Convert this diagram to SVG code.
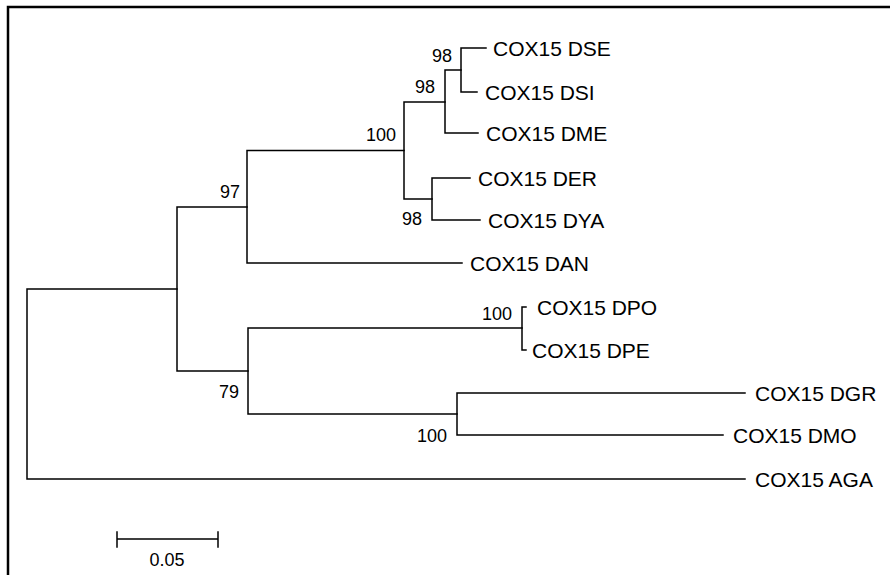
<svg xmlns="http://www.w3.org/2000/svg" width="890" height="575" viewBox="0 0 890 575">
<style>
.br{fill:none;stroke:#000;stroke-width:1.5;stroke-linecap:square}
.leaf{font-family:"Liberation Sans",Arial,sans-serif;font-size:21px;fill:#000}
.bs{font-family:"Liberation Sans",Arial,sans-serif;font-size:18px;fill:#000;text-anchor:end}
</style>
<rect width="890" height="575" fill="#fff"/>
<path d="M8,575 V7 H890" fill="none" stroke="#000" stroke-width="2.5"/>
<g id="connectors">
<path class="br" d="M27,289 H177 M27,289 V479 H745"/>
<path class="br" d="M177,207 V371 M177,207 H247 M177,371 H248"/>
<path class="br" d="M247,150.5 V263 H462 M247,150.5 H404"/>
<path class="br" d="M404,102 V199 M404,102 H445 M404,199 H432"/>
<path class="br" d="M445,70 V133 H478 M445,70 H461"/>
<path class="br" d="M461,48 V92 H477 M461,48 H486"/>
<path class="br" d="M432,178 V220 H480 M432,178 H470"/>
<path class="br" d="M248,328 V414 M248,328 H522 M248,414 H457"/>
<path class="br" d="M522,307 V350 H526 M522,307 H526"/>
<path class="br" d="M457,393 V435 H723 M457,393 H745"/>
<path class="br" d="M117,539 H218 M117,532 V547 M218,532 V547"/>
</g>
<g id="n-dse"><text class="leaf" x="493" y="55.5">COX15 DSE</text></g>
<g id="n-dsi"><text class="leaf" x="485" y="99.5">COX15 DSI</text></g>
<g id="n-dme"><text class="leaf" x="486" y="140.5">COX15 DME</text></g>
<g id="n-der"><text class="leaf" x="478" y="185.5">COX15 DER</text></g>
<g id="n-dya"><text class="leaf" x="488" y="227.5">COX15 DYA</text></g>
<g id="n-dan"><text class="leaf" x="470" y="270.5">COX15 DAN</text></g>
<g id="n-dpo"><text class="leaf" x="537" y="314.5">COX15 DPO</text></g>
<g id="n-dpe"><text class="leaf" x="532" y="357.5">COX15 DPE</text></g>
<g id="n-dgr"><text class="leaf" x="755" y="400.5">COX15 DGR</text></g>
<g id="n-dmo"><text class="leaf" x="733" y="442.5">COX15 DMO</text></g>
<g id="n-aga"><text class="leaf" x="755" y="486.5">COX15 AGA</text></g>
<g id="bootstrap">
<text class="bs" x="452" y="62">98</text>
<text class="bs" x="435" y="93">98</text>
<text class="bs" x="396" y="141">100</text>
<text class="bs" x="422" y="225">98</text>
<text class="bs" x="240" y="198">97</text>
<text class="bs" x="512" y="320">100</text>
<text class="bs" x="239" y="398">79</text>
<text class="bs" x="447" y="442">100</text>
</g>
<g id="scale"><text x="167" y="566" font-family="Liberation Sans, Arial, sans-serif" font-size="18" text-anchor="middle">0.05</text></g>
</svg>
